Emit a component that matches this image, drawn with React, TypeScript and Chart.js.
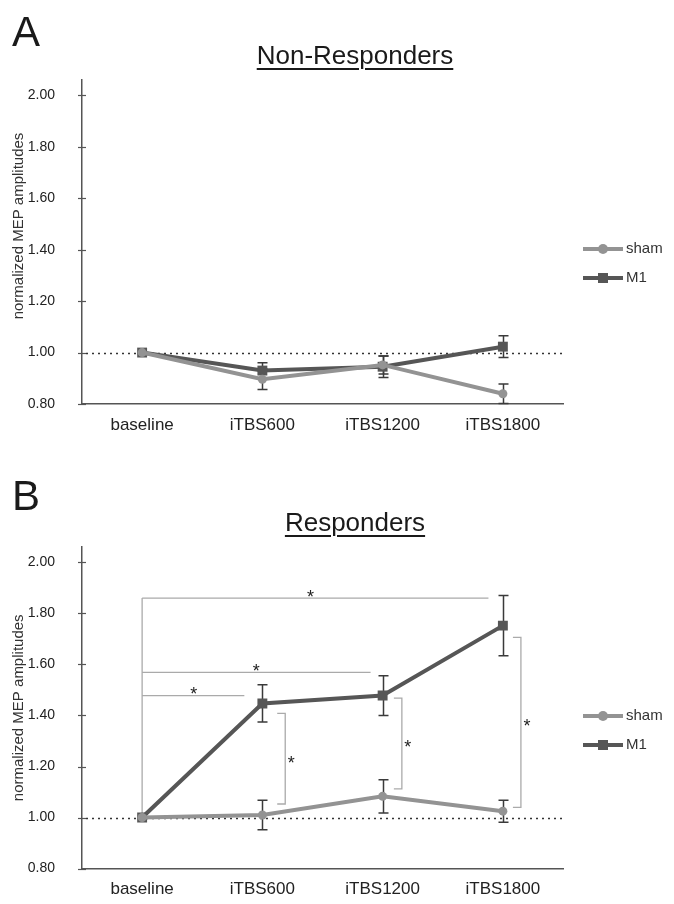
import React, { useEffect, useRef } from 'react';
import { Chart, registerables } from 'chart.js';
Chart.register(...registerables);

const categories = ['baseline', 'iTBS600', 'iTBS1200', 'iTBS1800'];
const yTicks = [0.8, 1.0, 1.2, 1.4, 1.6, 1.8, 2.0];
const yMin = 0.8;
const yMax = 2.06;
const refValue = 1.0;
const seriesNames = ['sham', 'M1'];

// Panel A: Non-Responders
const nonRespSham = [1.0, 0.896, 0.952, 0.84];
const nonRespShamErr = [0, 0.04, 0.035, 0.038];
const nonRespM1 = [1.0, 0.93, 0.945, 1.023];
const nonRespM1Err = [0, 0.03, 0.042, 0.042];

// Panel B: Responders
const respSham = [1.0, 1.01, 1.083, 1.025];
const respShamErr = [0, 0.058, 0.065, 0.043];
const respM1 = [1.0, 1.447, 1.478, 1.752];
const respM1Err = [0, 0.073, 0.078, 0.118];

// significance brackets (x in category index units, y in data units)
const respHBracketY = [1.86, 1.569, 1.478];
const respHBracketEnd = [2.88, 1.9, 0.85];
const respHStarX = [1.4, 0.95, 0.43];
const respVBracketX = [1.19, 2.16, 3.15];
const respVBracketTop = [1.408, 1.468, 1.706];
const respVBracketBottom = [1.053, 1.112, 1.04];
const respVStarY = [1.229, 1.291, 1.373];

const FONT = "'Liberation Sans', Arial, sans-serif";
const SHAM_COLOR = '#939393';
const M1_COLOR = '#565656';

type PanelCfg = {
  key: string;
  sham: number[];
  shamErr: number[];
  m1: number[];
  m1Err: number[];
  brackets: boolean;
  yTitleShift: number;
};

function makePlugin(cfg: PanelCfg) {
  return {
    id: 'extras' + cfg.key,
    beforeDatasetsDraw(chart: any) {
      const { ctx, chartArea: a, scales } = chart;
      const x = scales.x;
      const y = scales.y;
      ctx.save();
      // cross tick marks on y axis
      ctx.strokeStyle = '#555';
      ctx.lineWidth = 1.2;
      yTicks.forEach((v) => {
        const py = Math.round(y.getPixelForValue(v)) + 0.5;
        ctx.beginPath();
        ctx.moveTo(a.left - 4, py);
        ctx.lineTo(a.left + 4, py);
        ctx.stroke();
      });
      // dotted reference line
      ctx.setLineDash([2, 4]);
      ctx.strokeStyle = '#333';
      ctx.lineWidth = 1.5;
      const ry = Math.round(y.getPixelForValue(refValue)) + 0.5;
      ctx.beginPath();
      ctx.moveTo(a.left + 4, ry);
      ctx.lineTo(a.right, ry);
      ctx.stroke();
      ctx.setLineDash([]);
      // brackets
      if (cfg.brackets) {
        ctx.strokeStyle = '#aaaaaa';
        ctx.lineWidth = 1.3;
        const x0 = x.getPixelForValue(0);
        ctx.beginPath();
        ctx.moveTo(x0, y.getPixelForValue(respHBracketY[0]));
        ctx.lineTo(x0, y.getPixelForValue(refValue));
        ctx.stroke();
        respHBracketY.forEach((v, i) => {
          const py = y.getPixelForValue(v);
          ctx.beginPath();
          ctx.moveTo(x0, py);
          ctx.lineTo(x.getPixelForValue(respHBracketEnd[i]), py);
          ctx.stroke();
        });
        respVBracketX.forEach((v, i) => {
          const px = x.getPixelForValue(v);
          const tx = px - 8;
          const t = y.getPixelForValue(respVBracketTop[i]);
          const b = y.getPixelForValue(respVBracketBottom[i]);
          ctx.beginPath();
          ctx.moveTo(tx, t);
          ctx.lineTo(px, t);
          ctx.lineTo(px, b);
          ctx.lineTo(tx, b);
          ctx.stroke();
        });
      }
      // error bars
      ctx.strokeStyle = '#3a3a3a';
      ctx.lineWidth = 1.5;
      const drawErr = (vals: number[], errs: number[]) => {
        vals.forEach((v, i) => {
          const e = errs[i];
          if (!e) return;
          const px = Math.round(x.getPixelForValue(i)) + 0.5;
          const t = y.getPixelForValue(v + e);
          const b = y.getPixelForValue(v - e);
          ctx.beginPath();
          ctx.moveTo(px, t);
          ctx.lineTo(px, b);
          ctx.moveTo(px - 5, t);
          ctx.lineTo(px + 5, t);
          ctx.moveTo(px - 5, b);
          ctx.lineTo(px + 5, b);
          ctx.stroke();
        });
      };
      drawErr(cfg.m1, cfg.m1Err);
      drawErr(cfg.sham, cfg.shamErr);
      ctx.restore();
    },
    afterDraw(chart: any) {
      const { ctx, chartArea: a, scales } = chart;
      const x = scales.x;
      const y = scales.y;
      ctx.save();
      // stars
      if (cfg.brackets) {
        ctx.fillStyle = '#222';
        ctx.font = `18px ${FONT}`;
        ctx.textAlign = 'center';
        ctx.textBaseline = 'alphabetic';
        const star = (px: number, py: number) => ctx.fillText('*', px, py + 0.55 * 18);
        respHBracketY.forEach((v, i) => {
          star(x.getPixelForValue(respHStarX[i]), y.getPixelForValue(v) - 5);
        });
        respVBracketX.forEach((v, i) => {
          star(x.getPixelForValue(v) + 6, y.getPixelForValue(respVStarY[i]));
        });
      }
      // legend
      const items = [
        { color: SHAM_COLOR, style: 'circle' },
        { color: M1_COLOR, style: 'rect' },
      ];
      items.forEach((it, i) => {
        const ly = a.top + 169 + i * 29;
        ctx.strokeStyle = it.color;
        ctx.lineWidth = 4;
        ctx.beginPath();
        ctx.moveTo(583, ly);
        ctx.lineTo(623, ly);
        ctx.stroke();
        ctx.fillStyle = it.color;
        if (it.style === 'circle') {
          ctx.beginPath();
          ctx.arc(603, ly, 5, 0, Math.PI * 2);
          ctx.fill();
        } else {
          ctx.fillRect(598, ly - 5, 10, 10);
        }
        ctx.fillStyle = '#333';
        ctx.font = `15px ${FONT}`;
        ctx.textAlign = 'left';
        ctx.textBaseline = 'middle';
        ctx.fillText(seriesNames[i], 626, ly);
      });
      // y axis title
      ctx.translate(19, (a.top + a.bottom) / 2 + cfg.yTitleShift);
      ctx.rotate(-Math.PI / 2);
      ctx.fillStyle = '#333';
      ctx.font = `15px ${FONT}`;
      ctx.textAlign = 'center';
      ctx.textBaseline = 'middle';
      ctx.fillText('normalized MEP amplitudes', 0, 0);
      ctx.restore();
    },
  };
}

function Panel(props: { top: number; height: number; areaTop: number; areaBottom: number; cfg: PanelCfg }) {
  const ref = useRef<HTMLCanvasElement>(null);
  useEffect(() => {
    const { cfg, height, areaTop, areaBottom } = props;
    Chart.defaults.font.family = FONT;
    const chart = new Chart(ref.current as HTMLCanvasElement, {
      type: 'line',
      data: {
        labels: categories,
        datasets: [
          {
            label: seriesNames[0],
            data: cfg.sham,
            borderColor: SHAM_COLOR,
            backgroundColor: SHAM_COLOR,
            pointBackgroundColor: SHAM_COLOR,
            pointBorderColor: SHAM_COLOR,
            borderWidth: 4,
            pointStyle: 'circle',
            pointRadius: 4.5,
            pointBorderWidth: 0,
            tension: 0,
          },
          {
            label: seriesNames[1],
            data: cfg.m1,
            borderColor: M1_COLOR,
            backgroundColor: M1_COLOR,
            pointBackgroundColor: M1_COLOR,
            pointBorderColor: M1_COLOR,
            borderWidth: 4,
            pointStyle: 'rect',
            pointRadius: 7,
            pointBorderWidth: 0,
            tension: 0,
          },
        ],
      },
      options: {
        responsive: false,
        animation: false,
        events: [],
        layout: { padding: { left: 0, right: 111, top: areaTop, bottom: 0 } },
        plugins: { legend: { display: false }, tooltip: { enabled: false }, title: { display: false } },
        scales: {
          x: {
            type: 'category',
            offset: true,
            grid: { display: false, drawTicks: false },
            border: { display: true, color: '#555', width: 1.5 },
            ticks: { color: '#222', font: { size: 17, family: FONT }, padding: 11, maxRotation: 0, autoSkip: false },
            afterFit: (s: any) => {
              s.height = height - areaBottom;
            },
          },
          y: {
            type: 'linear',
            min: yMin,
            max: yMax,
            grid: { display: false, drawTicks: false },
            border: { display: true, color: '#555', width: 1.5 },
            ticks: {
              color: '#222',
              font: { size: 14, family: FONT },
              padding: 27,
              callback: (v: any) => Number(v).toFixed(2),
            },
            afterBuildTicks: (s: any) => {
              s.ticks = yTicks.map((v) => ({ value: v }));
            },
            afterFit: (s: any) => {
              s.width = 82;
            },
          },
        },
      } as any,
      plugins: [makePlugin(cfg)],
    });
    return () => chart.destroy();
  }, []);
  return (
    <canvas
      ref={ref}
      width={674}
      height={props.height}
      style={{ position: 'absolute', left: 0, top: props.top, width: 674, height: props.height }}
    />
  );
}

const letterStyle: React.CSSProperties = {
  position: 'absolute',
  left: 12,
  fontFamily: FONT,
  fontSize: 42,
  lineHeight: '42px',
  color: '#1a1a1a',
};

const titleStyle: React.CSSProperties = {
  position: 'absolute',
  left: 0,
  width: 710,
  textAlign: 'center',
  fontFamily: FONT,
  fontSize: 26,
  lineHeight: '26px',
  color: '#1a1a1a',
  textDecoration: 'underline',
  textDecorationThickness: '2px',
  textUnderlineOffset: '4px',
};

const panelA: PanelCfg = {
  key: 'A',
  sham: nonRespSham,
  shamErr: nonRespShamErr,
  m1: nonRespM1,
  m1Err: nonRespM1Err,
  brackets: false,
  yTitleShift: -16,
};

const panelB: PanelCfg = {
  key: 'B',
  sham: respSham,
  shamErr: respShamErr,
  m1: respM1,
  m1Err: respM1Err,
  brackets: true,
  yTitleShift: 0,
};

export default function App() {
  return (
    <div style={{ position: 'absolute', left: 0, top: 0, width: 674, height: 904, background: '#fff' }}>
      <Panel top={0} height={460} areaTop={80} areaBottom={404} cfg={panelA} />
      <Panel top={460} height={444} areaTop={87} areaBottom={410} cfg={panelB} />
      <div style={{ ...letterStyle, top: 11 }}>A</div>
      <div style={{ ...letterStyle, top: 475 }}>B</div>
      <div style={{ ...titleStyle, top: 42 }}>Non-Responders</div>
      <div style={{ ...titleStyle, top: 509 }}>Responders</div>
    </div>
  );
}
